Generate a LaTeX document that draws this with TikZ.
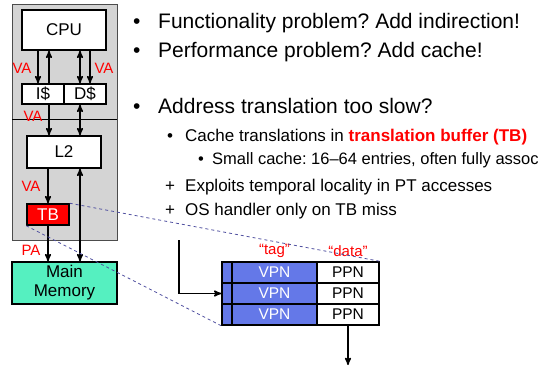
\documentclass[tikz,border=0pt]{standalone}
\usepackage{fontspec}
\setmainfont{Liberation Sans}
\usetikzlibrary{arrows}
\usetikzlibrary{calc}
\definecolor{panelgray}{RGB}{212,212,212}
\definecolor{memgreen}{RGB}{85,240,192}
\definecolor{vpnblue}{RGB}{100,120,232}
\definecolor{dashblue}{RGB}{80,80,160}
\frenchspacing
\begin{document}
\begin{tikzpicture}[x=1pt,y=-1pt,
  box/.style={draw=black, line width=1.5pt, fill=white, inner sep=0pt, font=\fontsize{17}{19}\selectfont},
  lbl/.style={text=red, inner sep=0pt, font=\fontsize{15}{15}\selectfont},
  bus/.style={line width=1.5pt, >=stealth'},
  cell/.style={draw=black, line width=1.5pt, inner sep=0pt, minimum height=21pt, font=\fontsize{15.5}{15.5}\selectfont},
  miss/.style={dashblue, line width=.8pt, dash pattern=on 3pt off 3pt},
  txt/.style={anchor=base west, inner sep=0pt}]
\useasboundingbox (0,0) rectangle (559,366);
\clip (0,0) rectangle (559,366);
\draw[gray!60!black, fill=panelgray] (12,4) rectangle (117,240);
\draw[black] (12,119) -- (117,119);
\node[box, minimum width=84pt, minimum height=40pt] (cpu) at (64,30) {CPU};
\node[box, minimum width=42pt, minimum height=20pt] (icache) at (43,94) {I\$};
\node[box, minimum width=42pt, minimum height=20pt] (dcache) at (85,94) {D\$};
\node[box, minimum width=74pt, minimum height=32pt] (ltwo) at (64,152) {L2};
\node[box, fill=red, text=white, minimum width=42pt, minimum height=21pt] (tb) at (48,214.5) {TB};
\node[box, fill=memgreen, align=center, minimum width=105pt, minimum height=42pt] (mem) at (64.5,283) {Main\\Memory};
\draw[bus,->] ([xshift=-5pt]icache.north |- cpu.south) -- ([xshift=-5pt]icache.north);
\draw[bus,->] ([xshift=6pt]icache.north) -- ([xshift=6pt]icache.north |- cpu.south);
\draw[bus,<->] ([xshift=-5pt]dcache.north |- cpu.south) -- ([xshift=-5pt]dcache.north);
\draw[bus,->] ([xshift=5pt]dcache.north |- cpu.south) -- ([xshift=5pt]dcache.north);
\draw[bus,->] ([xshift=6pt]icache.south) -- ([xshift=6pt]icache.south |- ltwo.north);
\draw[bus,<->] ([xshift=-5pt]dcache.south) -- ([xshift=-5pt]dcache.south |- ltwo.north);
\draw[bus,->] (tb.north |- ltwo.south) -- (tb.north);
\draw[bus,<->] ([xshift=-5pt]dcache.south |- ltwo.south) -- ([xshift=-5pt]dcache.south |- mem.north);
\draw[bus,->] (tb.south) -- (tb.south |- mem.north);
\node[lbl] (va1) at (22,68) {VA};
\node[lbl] (va2) at (104,68) {VA};
\node[lbl] (va3) at (33,116) {VA};
\node[lbl] (va4) at (31,186) {VA};
\node[lbl] (pa) at (31,250) {PA};
\foreach \r/\y in {1/272.5,2/293.5,3/314.5}{
  \node[cell, fill=vpnblue, minimum width=10pt] (tag\r) at (227,\y) {};
  \node[cell, fill=vpnblue, text=white, minimum width=85pt] (vpn\r) at (274.5,\y) {VPN};
  \node[cell, fill=white, minimum width=62pt] (ppn\r) at (348,\y) {PPN};
}
\node[lbl] (taglbl) at ([yshift=10pt]vpn1.north) {“tag”};
\node[lbl] (datalbl) at ([yshift=10pt]ppn1.north) {“data”};
\coordinate (lookup) at (179,240);
\coordinate (result) at (348,365);
\draw[bus,->] (lookup) |- (tag2.west);
\draw[bus,->] (ppn3.south) -- (result);
\draw[miss] (tb.north east) -- (ppn1.north east);
\draw[miss] (tb.south west) -- (tag3.south west);
\begin{scope}[font=\fontsize{21}{21}\selectfont]
\node[txt] (b1) at (133,29) {•};
\node[txt] (t1) at (158,29) {Functionality problem? Add indirection!};
\node[txt] (b2) at (133,58) {•};
\node[txt] (t2) at (158,58) {Performance problem? Add cache!};
\node[txt] (b3) at (133,114) {•};
\node[txt] (t3) at (158,114) {Address translation too slow?};
\end{scope}
\begin{scope}[font=\fontsize{17}{17}\selectfont]
\node[txt] (b4) at (167,142) {•};
\node[txt] (t4) at (185,142) {Cache translations in \textcolor{red}{\textbf{translation buffer (TB)}}};
\node[txt] (p1) at (165,191) {+};
\node[txt] (t6) at (185,191) {Exploits temporal locality in PT accesses};
\node[txt] (p2) at (165,215) {+};
\node[txt] (t7) at (185,215) {OS handler only on TB miss};
\end{scope}
\node[txt, font=\fontsize{16.5}{16.5}\selectfont] (b5) at (198,165) {•};
\node[txt, font=\fontsize{16.5}{16.5}\selectfont] (t5) at (212,165) {Small cache: 16–64 entries, often fully assoc};
\end{tikzpicture}
\end{document}
